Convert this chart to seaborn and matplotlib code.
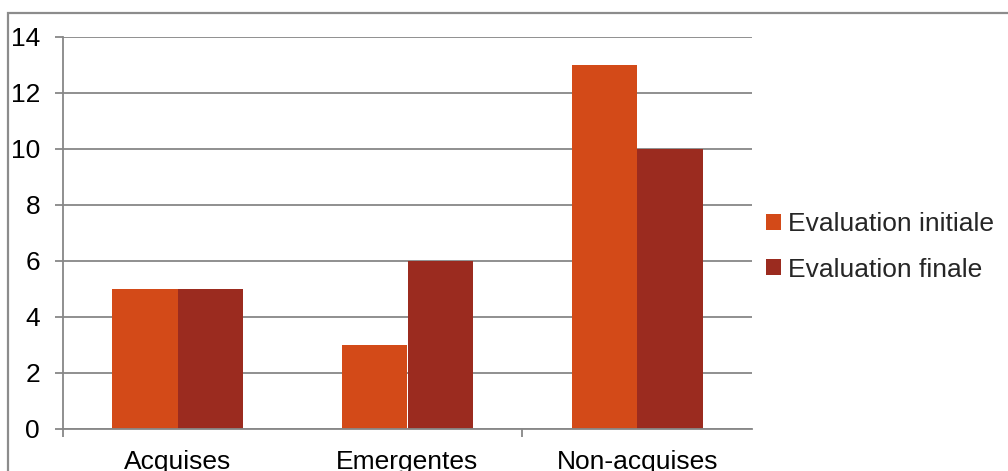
import matplotlib
matplotlib.use("Agg")
import matplotlib.pyplot as plt
from matplotlib.patches import Rectangle, Patch
from matplotlib.ticker import FixedLocator
import seaborn as sns
import pandas as pd

categories = ["Acquises", "Emergentes", "Non-acquises"]
series_names = ["Evaluation initiale", "Evaluation finale"]
initiale = [5, 3, 13]
finale = [5, 6, 10]
y_ticks = [0, 2, 4, 6, 8, 10, 12, 14]

colors = ["#D34A18", "#9B2B1F"]
grey = "#878787"

df = pd.DataFrame({
    "categorie": categories * 2,
    "serie": [series_names[0]] * 3 + [series_names[1]] * 3,
    "valeur": initiale + finale,
})

sns.set_style("white")
plt.rcParams["font.family"] = ["Liberation Sans", "DejaVu Sans"]

fig = plt.figure(figsize=(10.08, 4.71), dpi=100)
ax = fig.add_axes([63 / 1008, 1 - 429 / 471, (752 - 63) / 1008, (429 - 37) / 471])

sns.barplot(data=df, x="categorie", y="valeur", hue="serie",
            order=categories, hue_order=series_names,
            palette=colors, width=0.57, saturation=1,
            edgecolor="none", linewidth=0, ax=ax, legend=False)

ax.set_xlim(-0.5, 2.5)
ax.set_ylim(0, 14)
ax.set_yticks(y_ticks)
ax.set_xlabel("")
ax.set_ylabel("")

ax.yaxis.grid(True, color=grey, linewidth=1.3)
ax.set_axisbelow(True)

for side in ("top", "right"):
    ax.spines[side].set_visible(False)
for side in ("left", "bottom"):
    ax.spines[side].set_color(grey)
    ax.spines[side].set_linewidth(1.3)

fs = 19
ax.tick_params(axis="y", direction="out", length=5.5, width=1.3, color=grey,
               labelsize=fs, labelcolor="black", pad=11, left=True)
ax.tick_params(axis="x", which="major", length=0, labelsize=fs,
               labelcolor="black", pad=15)
ax.xaxis.set_minor_locator(FixedLocator([-0.5, 1.5]))
ax.tick_params(axis="x", which="minor", direction="out", length=5.5,
               width=1.3, color=grey, bottom=True)

handles = [Patch(facecolor=c, edgecolor="none") for c in colors]
fig.legend(handles, series_names, loc="center left",
           bbox_to_anchor=(766 / 1008, 1 - 247 / 471), frameon=False,
           fontsize=fs, handlelength=0.55, handleheight=0.55,
           handletextpad=0.3, labelspacing=0.8, borderpad=0,
           borderaxespad=0)

# outer chart frame
fig.patches.append(Rectangle((8 / 1008, -0.2), 1.2, 0.2 + (1 - 13 / 471),
                             transform=fig.transFigure, fill=False,
                             edgecolor="#8C8C8C", linewidth=1.6))

fig.savefig("out.png", dpi=100)
